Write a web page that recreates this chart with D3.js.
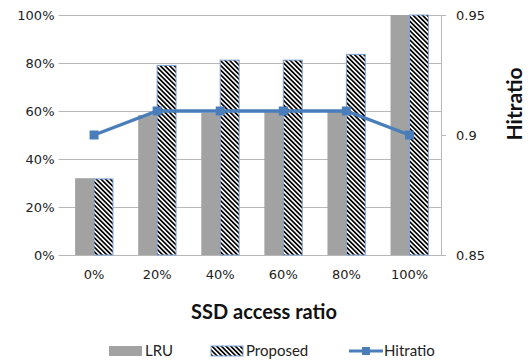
<!DOCTYPE html>
<html>
<head>
<meta charset="utf-8">
<script src="https://cdn.jsdelivr.net/npm/d3@7"></script>
<style>
body { margin: 0; background: #fff; }
svg { display: block; }
</style>
</head>
<body>
<svg id="chart" width="531" height="360"></svg>
<script>
const categories = ["0%", "20%", "40%", "60%", "80%", "100%"];
const lruValues = [32, 58.3, 59.3, 59.7, 60.4, 100];
const proposedValues = [31.7, 79, 81.2, 81.2, 83.6, 100];
const hitratioValues = [0.90, 0.91, 0.91, 0.91, 0.91, 0.90];
const leftTicks = [0, 20, 40, 60, 80, 100];
const rightTicks = [0.85, 0.9, 0.95];
const seriesNames = ["LRU", "Proposed", "Hitratio"];

const svg = d3.select("#chart");
const plotL = 62.5, plotR = 441, plotT = 15, plotB = 255;

const x = d3.scaleBand().domain(categories).range([plotL, plotR]).paddingInner(0.4).paddingOuter(0.2);
const xSub = d3.scaleBand().domain(["LRU", "Proposed"]).range([0, x.bandwidth()]);
const y = d3.scaleLinear().domain([0, 100]).range([plotB, plotT]);
const y2 = d3.scaleLinear().domain([0.85, 0.95]).range([plotB, plotT]);
const xc = d => x(d) + x.bandwidth() / 2;

const defs = svg.append("defs");
const pat = defs.append("pattern").attr("id", "hatch")
  .attr("patternUnits", "userSpaceOnUse").attr("width", 3.3).attr("height", 10)
  .attr("patternTransform", "rotate(-45)");
pat.append("rect").attr("width", 3.3).attr("height", 10).attr("fill", "#fff");
pat.append("rect").attr("width", 1.7).attr("height", 10).attr("fill", "#000");

const gridColor = "#b8b8b8";
const tickFont = "'DejaVu Sans', Verdana, sans-serif";

// Left axis with gridlines
const yAxis = d3.axisLeft(y).tickValues(leftTicks).tickFormat(d => d + "%")
  .tickSize(-(plotR - plotL)).tickPadding(8);
const gy = svg.append("g").attr("transform", `translate(${plotL},0)`).call(yAxis);
gy.select(".domain").remove();
gy.selectAll(".tick line").attr("stroke", gridColor).attr("x1", -4);
gy.selectAll(".tick text").attr("font-family", tickFont).attr("font-size", 13).attr("fill", "#222");

// Right axis
const y2Axis = d3.axisRight(y2).tickValues(rightTicks).tickFormat(d3.format("")).tickSize(5).tickPadding(10);
const gy2 = svg.append("g").attr("transform", `translate(${plotR},0)`).call(y2Axis);
gy2.select(".domain").attr("stroke", gridColor);
gy2.selectAll(".tick line").attr("stroke", gridColor);
gy2.selectAll(".tick text").attr("font-family", tickFont).attr("font-size", 13).attr("fill", "#222");

// X axis
const xAxis = d3.axisBottom(x).tickSize(0).tickPadding(15);
const gx = svg.append("g").attr("transform", `translate(0,${plotB})`).call(xAxis);
gx.select(".domain").remove();
gx.selectAll(".tick text").attr("font-family", tickFont).attr("font-size", 13).attr("fill", "#222");

// Bars
svg.append("g").selectAll("rect").data(categories).join("rect")
  .attr("x", d => x(d) + xSub("LRU"))
  .attr("y", (d, i) => y(lruValues[i]))
  .attr("width", xSub.bandwidth())
  .attr("height", (d, i) => y(0) - y(lruValues[i]))
  .attr("fill", "#a2a2a2");

svg.append("g").selectAll("rect").data(categories).join("rect")
  .attr("x", d => x(d) + xSub("Proposed"))
  .attr("y", (d, i) => y(proposedValues[i]))
  .attr("width", xSub.bandwidth())
  .attr("height", (d, i) => y(0) - y(proposedValues[i]))
  .attr("fill", "url(#hatch)")
  .attr("stroke", "#7fa3d3").attr("stroke-width", 1);

// Line
const lineColor = "#4a7ebb";
const line = d3.line().x((d, i) => xc(categories[i])).y(d => y2(d));
svg.append("path").datum(hitratioValues).attr("d", line)
  .attr("fill", "none").attr("stroke", lineColor).attr("stroke-width", 3.3);
svg.append("g").selectAll("rect").data(hitratioValues).join("rect")
  .attr("x", (d, i) => xc(categories[i]) - 4.5)
  .attr("y", d => y2(d) - 4.5)
  .attr("width", 9).attr("height", 9).attr("fill", lineColor);

// Axis titles
const titleFont = "Lato, 'Open Sans', sans-serif";
svg.append("text").attr("x", 264).attr("y", 319).attr("text-anchor", "middle")
  .attr("font-family", titleFont).attr("font-weight", "bold").attr("font-size", 20)
  .attr("fill", "#111").text("SSD access ratio");
svg.append("text").attr("transform", "translate(522,104) rotate(-90)").attr("text-anchor", "middle")
  .attr("font-family", titleFont).attr("font-weight", "bold").attr("font-size", 21)
  .attr("fill", "#111").text("Hitratio");

// Legend
const legY = 351;
const legFont = "Lato, sans-serif";
const lg = svg.append("g");
lg.append("rect").attr("x", 109).attr("y", legY - 5).attr("width", 33).attr("height", 10).attr("fill", "#a2a2a2");
lg.append("text").attr("x", 145).attr("y", legY + 5).attr("font-family", legFont).attr("font-size", 15).attr("fill", "#222").text(seriesNames[0]);
lg.append("rect").attr("x", 211).attr("y", legY - 5).attr("width", 32).attr("height", 10).attr("fill", "url(#hatch)").attr("stroke", "#7fa3d3");
lg.append("text").attr("x", 246).attr("y", legY + 5).attr("font-family", legFont).attr("font-size", 15).attr("fill", "#222").text(seriesNames[1]);
lg.append("line").attr("x1", 349).attr("x2", 383).attr("y1", legY).attr("y2", legY).attr("stroke", lineColor).attr("stroke-width", 3);
lg.append("rect").attr("x", 362).attr("y", legY - 4).attr("width", 8).attr("height", 8).attr("fill", lineColor);
lg.append("text").attr("x", 384).attr("y", legY + 5).attr("font-family", legFont).attr("font-size", 15).attr("fill", "#222").text(seriesNames[2]);
</script>
</body>
</html>
